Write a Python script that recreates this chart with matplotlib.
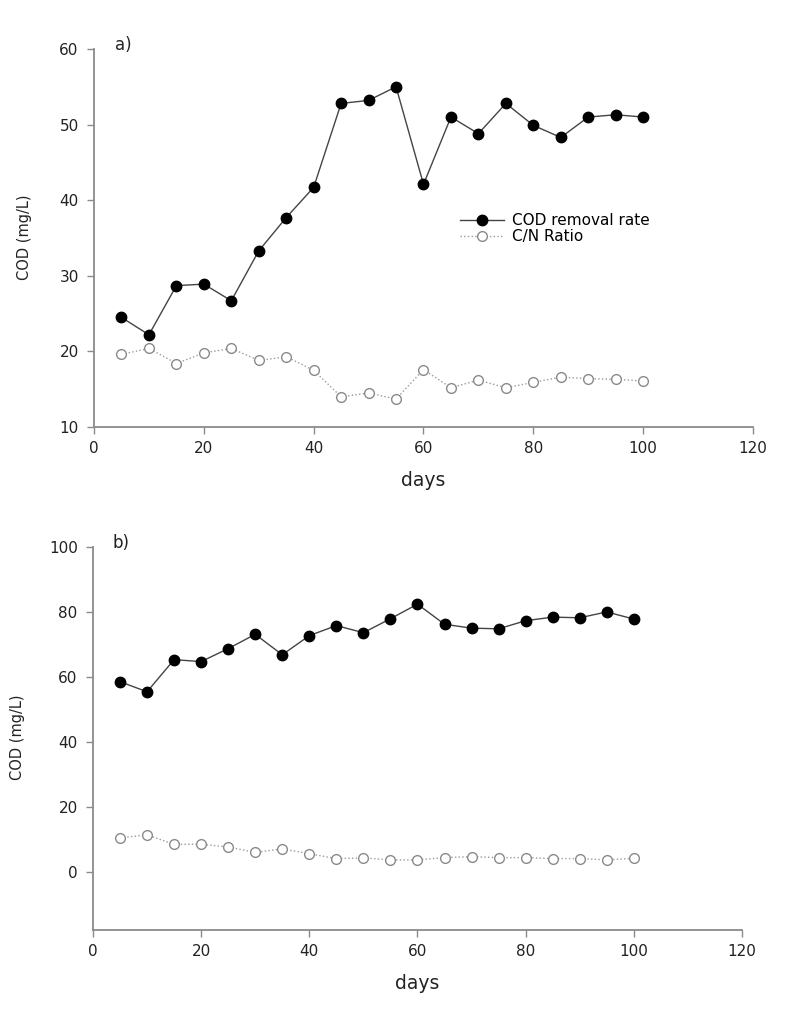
import matplotlib.pyplot as plt

plt.rcParams['font.family'] = ['DejaVu Sans']

days = [5, 10, 15, 20, 25, 30, 35, 40, 45, 50, 55, 60, 65, 70, 75, 80, 85, 90, 95, 100]

# panel a)
cod_a = [24.5, 22.2, 28.7, 28.9, 26.7, 33.3, 37.7, 41.7, 52.8, 53.2, 55.0,
         42.1, 51.0, 48.8, 52.8, 49.9, 48.3, 51.0, 51.3, 51.0]
cn_a = [19.6, 20.4, 18.4, 19.8, 20.4, 18.8, 19.3, 17.5, 14.0, 14.5, 13.7,
        17.6, 15.2, 16.2, 15.2, 15.9, 16.6, 16.4, 16.3, 16.1]

# panel b)
cod_b = [58.5, 55.4, 65.3, 64.7, 68.7, 73.1, 66.8, 72.7, 75.8, 73.6, 77.9,
         82.4, 76.2, 75.0, 74.8, 77.3, 78.4, 78.2, 80.0, 77.8]
cn_b = [10.4, 11.3, 8.4, 8.4, 7.6, 5.9, 7.0, 5.5, 4.0, 4.2, 3.6,
        3.6, 4.3, 4.6, 4.3, 4.3, 4.0, 4.0, 3.6, 4.1]

spine_col = '#8a8a8a'
text_col = '#222222'

fig = plt.figure(figsize=(7.98, 10.10), dpi=100)
ax1 = fig.add_axes([0.1178, 0.5772, 0.8258, 0.3743])
ax2 = fig.add_axes([0.1165, 0.0792, 0.8133, 0.3792])


def style_axes(ax):
    for s in ['top', 'right']:
        ax.spines[s].set_visible(False)
    for s in ['left', 'bottom']:
        ax.spines[s].set_color(spine_col)
        ax.spines[s].set_linewidth(1.3)
    ax.tick_params(direction='out', length=5, width=1, color=spine_col,
                   labelsize=11, labelcolor=text_col)
    ax.tick_params(axis='y', pad=6)
    ax.tick_params(axis='x', pad=5)
    ax.set_xlim(0, 120)
    ax.set_xticks([0, 20, 40, 60, 80, 100, 120])


def draw(ax, cod, cn):
    ax.plot(days, cod, color='#444444', lw=1, marker='o', ms=7.5,
            mfc='black', mec='black', label='COD removal rate', clip_on=False)
    ax.plot(days, cn, color='#9a9a9a', lw=1, ls=':', marker='o', ms=7,
            mfc='white', mec='#8a8a8a', mew=1, label='C/N Ratio', clip_on=False)


draw(ax1, cod_a, cn_a)
style_axes(ax1)
ax1.set_ylim(10, 60)
ax1.set_yticks([10, 20, 30, 40, 50, 60])
ax1.set_ylabel('COD (mg/L)', fontsize=10.5, color=text_col)
ax1.yaxis.set_label_coords(-0.094, 0.503)
ax1.set_xlabel('days', fontsize=13.5, color=text_col)
ax1.xaxis.set_label_coords(0.5, -0.115)
ax1.text(0.044, 1.01, 'a)', transform=ax1.transAxes, fontsize=12,
         color=text_col, ha='center', va='center')
ax1.legend(loc='upper left', bbox_to_anchor=(0.555, 0.565), frameon=False,
           fontsize=11, borderpad=0, borderaxespad=0, handlelength=2.9,
           handletextpad=0.5, labelspacing=0.05)

draw(ax2, cod_b, cn_b)
style_axes(ax2)
ax2.set_ylim(-18, 100)
ax2.set_yticks([0, 20, 40, 60, 80, 100])
ax2.set_ylabel('COD (mg/L)', fontsize=10.5, color=text_col)
ax2.yaxis.set_label_coords(-0.104, 0.504)
ax2.set_xlabel('days', fontsize=13.5, color=text_col)
ax2.xaxis.set_label_coords(0.5, -0.115)
ax2.text(0.043, 1.01, 'b)', transform=ax2.transAxes, fontsize=12,
         color=text_col, ha='center', va='center')

fig.savefig('out.png', dpi=100)
